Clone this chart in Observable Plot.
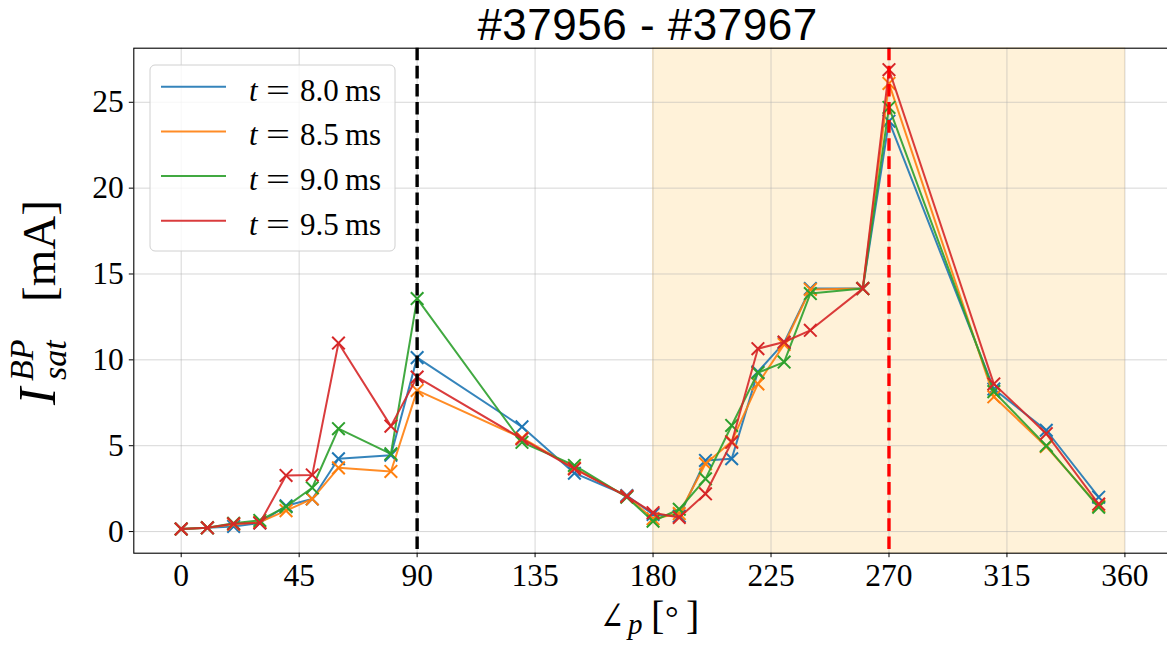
<!DOCTYPE html>
<html>
<head>
<meta charset="utf-8">
<script src="https://cdn.jsdelivr.net/npm/d3@7"></script>
<script src="https://cdn.jsdelivr.net/npm/@observablehq/plot@0.6"></script>
<style>
  html, body { margin: 0; padding: 0; background: #fff; overflow: hidden; width: 1167px; height: 646px; }
  #title { box-sizing: border-box; width: 1167px; padding-left: 128px; height: 40px; line-height: 50px; text-align: center; overflow: visible;
           font-family: "Liberation Sans", Arial, sans-serif; font-size: 44px; letter-spacing: 0.5px; color: #000; white-space: nowrap; }
  #chart svg { display: block; overflow: visible; max-width: none !important; width: 1175px; height: 606px; }
</style>
</head>
<body>
<div id="title"></div>
<div id="chart"></div>
<script>
// ---- data ----
const titleText = "#37956 - #37967";
const angles = [0, 10, 20, 30, 40, 50, 60, 80, 90, 130, 150, 170, 180, 190, 200, 210, 220, 230, 240, 260, 270, 310, 330, 350];
const timesMs = ["8.0", "8.5", "9.0", "9.5"];
const seriesColors = ["#1f77b4", "#ff7f0e", "#2ca02c", "#d62728"];
const values80 = [0.15, 0.22, 0.30, 0.50, 1.50, 1.90, 4.24, 4.45, 10.13, 6.10, 3.40, 2.10, 1.00, 0.90, 4.14, 4.24, 9.30, 11.00, 14.15, 14.15, 23.9, 8.30, 5.90, 2.00];
const values85 = [0.15, 0.22, 0.42, 0.55, 1.22, 1.90, 3.71, 3.50, 8.22, 5.45, 3.70, 2.05, 0.75, 1.05, 3.95, 5.25, 8.60, 10.90, 14.10, 14.15, 26.1, 7.85, 4.95, 1.50];
const values90 = [0.15, 0.22, 0.48, 0.65, 1.45, 2.55, 5.99, 4.53, 13.57, 5.20, 3.85, 2.00, 0.60, 1.30, 3.07, 6.18, 9.25, 9.87, 13.86, 14.15, 24.7, 8.15, 5.00, 1.42];
const values95 = [0.15, 0.22, 0.45, 0.50, 3.27, 3.30, 10.98, 6.14, 9.00, 5.40, 3.65, 2.05, 1.10, 0.82, 2.20, 5.20, 10.65, 11.04, 11.72, 14.15, 26.9, 8.60, 5.70, 1.60];
const xTicks = [0, 45, 90, 135, 180, 225, 270, 315, 360];
const yTicks = [0, 5, 10, 15, 20, 25];
const spanRange = [180, 360];
const refAngles = [90, 270];
const refColors = ["#000000", "#ff0000"];

// ---- build tables ----
const allValues = [values80, values85, values90, values95];
const rows = [];
allValues.forEach((vals, si) => {
  vals.forEach((v, i) => rows.push({angle: angles[i], value: v, series: timesMs[si], color: seriesColors[si]}));
});
const spanData = [{x1: spanRange[0], x2: spanRange[1]}];
const refData = refAngles.map((a, i) => ({angle: a, color: refColors[i]}));

document.getElementById("title").textContent = titleText;

const serif = "'Liberation Serif', 'DejaVu Serif', serif";

const seriesMarks = [];
timesMs.forEach((t, si) => {
  const d = rows.filter(r => r.series === t);
  seriesMarks.push(Plot.line(d, {x: "angle", y: "value", stroke: seriesColors[si], strokeWidth: 2, strokeOpacity: 0.9}));
  seriesMarks.push(Plot.dot(d, {x: "angle", y: "value", symbol: "times", r: 5.8, stroke: seriesColors[si], strokeWidth: 2}));
});

const plot = Plot.plot({
  width: 1175,
  height: 606,
  marginLeft: 133.3,
  marginRight: 3.4,
  marginTop: 7.7,
  marginBottom: 93.3,
  style: {fontFamily: serif, fontSize: "31.5px", color: "#000", background: "transparent", overflow: "visible"},
  x: {domain: [-18.08, 378]},
  y: {domain: [-1.26, 28.15]},
  marks: [
    Plot.rect(spanData, {x1: "x1", x2: "x2", fill: "#ffa500", fillOpacity: 0.15, stroke: "#ffa500", strokeOpacity: 0.15}),
    Plot.gridX(xTicks, {stroke: "#b0b0b0", strokeOpacity: 0.5, strokeWidth: 1}),
    Plot.gridY(yTicks, {stroke: "#b0b0b0", strokeOpacity: 0.5, strokeWidth: 1}),
    ...seriesMarks,
    Plot.ruleX(refData, {x: "angle", stroke: "color", strokeWidth: 3.4, strokeDasharray: "12.6,5.5"}),
    Plot.frame({stroke: "#000", strokeWidth: 1.1}),
    Plot.axisX(xTicks, {tickSize: 4.5, tickPadding: 5.8, label: null, fontSize: 31.5, fontFamily: serif, stroke: "#000"}),
    Plot.axisY(yTicks, {tickSize: 4.5, tickPadding: 5.5, label: null, fontSize: 31.5, fontFamily: serif, stroke: "#000"})
  ]
});
document.getElementById("chart").appendChild(plot);

// ---- labels & legend (text) ----
const svg = d3.select(plot);
const topOff = 40; // svg offset on page
const overlay = svg.append("g").attr("text-anchor", "start");

// y label: I_sat^BP [mA], rotated; each piece: [along, across, size, italic, text]
const yLabelParts = [
  [2, 0, 52, true, "I"],
  [27, 11, 34, true, "sat"],
  [26, -22, 34, true, "BP"],
  [105, 0, 47, false, "[mA]"]
];
const ylBaseX = 55, ylBaseY = 407 - topOff;
yLabelParts.forEach(([along, across, size, ital, txt]) => {
  overlay.append("text")
    .attr("transform", `translate(${ylBaseX + across},${ylBaseY - along}) rotate(-90)`)
    .attr("text-anchor", "start")
    .attr("font-family", serif).attr("font-size", size)
    .attr("font-style", ital ? "italic" : "normal").attr("fill", "#000").text(txt);
});

// x label: ∠p [ ° ]  : [x, y, size, italic, text, xScale]
const xLabelParts = [
  [600, 630, 40, false, "∠", 0.72],
  [628, 634, 29, true, "p", 1],
  [651, 629, 40, false, "[", 1],
  [665, 629, 34, false, "°", 1],
  [686, 629, 40, false, "]", 1]
];
xLabelParts.forEach(([x, y, size, ital, txt, sx]) => {
  overlay.append("text")
    .attr("transform", `translate(${x},${y - topOff}) scale(${sx},1)`)
    .attr("text-anchor", "start")
    .attr("font-family", serif).attr("font-size", size)
    .attr("font-style", ital ? "italic" : "normal").attr("fill", "#000").text(txt);
});

// legend
const lg = overlay.append("g");
lg.append("rect").attr("x", 150).attr("y", 65 - topOff).attr("width", 245).attr("height", 186)
  .attr("rx", 5).attr("fill", "#fff").attr("fill-opacity", 0.8).attr("stroke", "#d0d0d0").attr("stroke-width", 1);
timesMs.forEach((t, i) => {
  const ly = 86.7 - topOff + i * 44.7;
  lg.append("line").attr("x1", 161).attr("x2", 226).attr("y1", ly).attr("y2", ly)
    .attr("stroke", seriesColors[i]).attr("stroke-width", 2).attr("stroke-opacity", 0.9);
  const mk = (x, txt, opts = {}) => {
    const e = lg.append("text").attr("x", x).attr("y", ly + 14).attr("text-anchor", "start")
      .attr("font-family", serif).attr("font-size", 31).attr("fill", "#000").text(txt);
    if (opts.italic) e.attr("font-style", "italic");
    if (opts.len) e.attr("textLength", opts.len).attr("lengthAdjust", "spacingAndGlyphs");
    return e;
  };
  mk(249, "t", {italic: true});
  mk(266, "=", {len: 24});
  mk(300, t);
  mk(345, "ms");
});
</script>
</body>
</html>
